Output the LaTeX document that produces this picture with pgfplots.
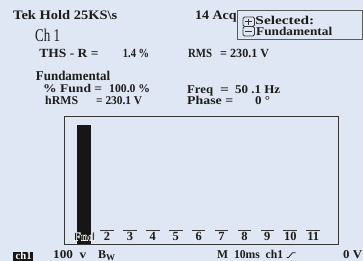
\documentclass[border=0pt]{standalone}
\usepackage{pgfplots}
\pgfplotsset{compat=1.18}
\usepackage{graphicx}
\usepackage{fontspec}
\setmainfont{Liberation Serif}
\definecolor{bgc}{RGB}{224,231,244}
\definecolor{txtc}{RGB}{28,28,28}
\definecolor{barc}{RGB}{22,22,22}
\definecolor{boxc}{RGB}{55,55,55}
\definecolor{selc}{RGB}{90,90,90}
\newcommand\txt[5]{\node[anchor=base west, inner sep=0, text=txtc] at (#1,261-#2) {\resizebox{#3bp}{\height}{\fontsize{#4}{#4}\selectfont\bfseries #5}};}
\newcommand\outl[1]{{\special{pdf:literal direct 1 1 1 RG 2 Tr 0.45 w}#1\special{pdf:literal direct 0 Tr}}}
\begin{document}
\begin{tikzpicture}[x=1bp,y=1bp]
\fill[bgc] (0,0) rectangle (363,261);
\useasboundingbox (0,0) rectangle (363,261);
% header texts
\txt{13}{19}{104}{13}{Tek Hold 25KS\textbackslash s}
\txt{195}{19}{41.5}{13}{14 Acq}
\node[anchor=base west, inner sep=0, text=txtc] at (35,261-41.5) {\resizebox{25bp}{\height}{\fontsize{18}{18}\selectfont Ch 1}};
\txt{39.3}{57.3}{59}{12.5}{THS - R =}
\txt{122.7}{57.3}{26.3}{12.5}{1.4 \%}
\txt{188}{57.3}{24}{12.5}{RMS}
\txt{220}{57.3}{49}{12.5}{= 230.1 V}
\txt{35.7}{80.7}{74.3}{13.5}{Fundamental}
\txt{43}{92.8}{59}{11.8}{\% Fund =}
\txt{109}{92.8}{41}{11.8}{100.0 \%}
\txt{45}{104}{33}{12}{hRMS}
\txt{96}{104}{46}{12}{= 230.1 V}
\txt{187}{93}{26}{12}{Freq}
\txt{220}{93}{9}{12}{=}
\txt{235}{93}{45}{12}{50 .1 Hz}
\txt{187}{104}{46}{12}{Phase =}
\txt{255}{104}{15}{12}{0 °}
% selected box
\draw[selc, line width=0.9bp] (237.5,261-10) rectangle (362,261-39);
\begin{scope}[draw=boxc, line width=0.8bp]
\draw[rounded corners=1.5bp] (243,261-17) rectangle (254.5,261-26.5);
\draw[rounded corners=1.5bp] (243,261-26.5) rectangle (254.5,261-36);
\draw (245.3,261-21.75)--(252.2,261-21.75);
\draw (248.75,261-18.8)--(248.75,261-24.7);
\draw (245.3,261-31.25)--(252.2,261-31.25);
\end{scope}
\txt{255.3}{24.3}{58.7}{12}{Selected:}
\txt{256}{35}{76}{12}{Fundamental}
% bottom line
\fill[barc] (13,0) rectangle (33,261-252);
\node[anchor=base west, inner sep=0, text=white] at (15.5,261-259.5) {\resizebox{16bp}{\height}{\fontsize{11}{11}\selectfont\bfseries ch1}};
\txt{53}{258.2}{33}{12}{100 \ v}
\txt{98}{258.2}{8}{12}{B}
\txt{106}{260.6}{9}{9}{W}
\txt{217}{258.2}{66}{12}{M \ 10ms \ ch1}
\draw[txtc, line width=0.8bp] (286.5,261-257.5)--(288.5,261-257.5)--(292.5,261-252.8)--(295.5,261-252.8);
\txt{343}{258.2}{19}{12}{0 V}
\begin{axis}[at={(28,16)}, anchor=south west, width=274bp, height=128bp, scale only axis,
  xmin=0.127, xmax=12.09, ymin=-13.3, ymax=108.6,
  axis on top,
  axis line style={draw=boxc, line width=1.2bp},
  xtick={1,2,3,4,5,6,7,8,9,10,11},
  xticklabels={\outl{Fnd},2,3,4,5,6,7,8,9,10,11},
  major tick length=0pt, ytick=\empty,
  xticklabel style={anchor=base, yshift=3.5bp, inner sep=0pt, text=txtc, font=\fontsize{12.5}{12.5}\selectfont\bfseries},
  clip=false]
\addplot[fill=barc, draw=none] coordinates {(0.695,-13.3) (0.695,100) (1.306,100) (1.306,-13.3)} -- cycle;
\addplot[only marks, mark=-, mark size=6.8bp, mark options={draw=boxc, line width=1bp}] coordinates {(2,0) (3,0) (4,0) (5,0) (6,0) (7,0) (8,0) (9,0) (10,0) (11,0)};
\end{axis}
\end{tikzpicture}
\end{document}
